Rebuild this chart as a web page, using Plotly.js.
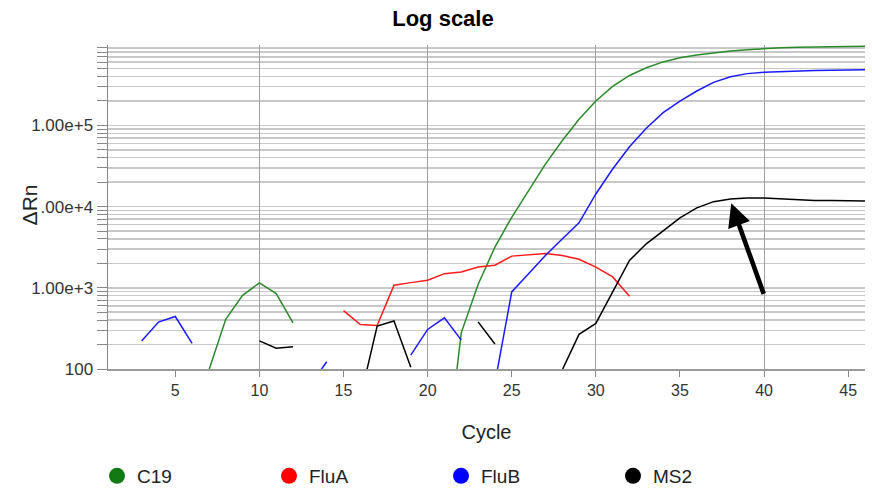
<!DOCTYPE html>
<html>
<head>
<meta charset="utf-8">
<script src="https://cdn.plot.ly/plotly-3.0.1.min.js"></script>
<style>html,body{margin:0;padding:0;background:#fff;}</style>
</head>
<body>
<div id="chart" style="width:872px;height:488px;"></div>
<script>
const cycles = [1,2,3,4,5,6,7,8,9,10,11,12,13,14,15,16,17,18,19,20,21,22,23,24,25,26,27,28,29,30,31,32,33,34,35,36,37,38,39,40,41,42,43,44,45,46];

const c19 = [null,null,null,null,null,null,97,410,809,1146,849,370,null,null,null,null,null,null,null,null,5,279,1100,3170,7390,15700,33400,64600,119000,200000,302000,412000,513000,605000,679000,735000,783000,822000,857000,883000,901000,914000,923000,930000,936000,940000];

const fluA = [null,null,null,null,null,null,null,null,null,null,null,null,null,null,524,353,344,1074,1158,1236,1493,1563,1800,1900,2455,2550,2650,2500,2250,1800,1360,787,null,null,null,null,null,null,null,null,null,null,null,null,null,null];

const fluB = [null,null,222,378,443,207,null,null,null,null,null,null,62,123,null,null,null,null,148,307,427,227,null,67,889,1490,2500,4000,6300,14300,29000,54500,92400,143700,199600,265000,339000,398000,434000,450000,461000,468000,474000,478000,481000,484000];

const ms2 = [null,null,null,null,null,null,null,null,null,222,180,188,null,null,null,44,337,391,105,null,null,null,380,203,null,null,null,97,267,364,900,2174,3480,5080,7240,9660,11500,12400,12790,12790,12450,12200,11900,11860,11860,11750];

const seriesNames = ['C19','FluA','FluB','MS2'];
const lineColors = ['#2a8a2a','#ff1a1a','#1a1aff','#000000'];
const legendColors = ['#137a13','#ff0000','#0000ff','#000000'];
const seriesData = [c19, fluA, fluB, ms2];

const yTickVals = [100, 1000, 10000, 100000];
const yTickText = ['100', '1.00e+3', '1.00e+4', '1.00e+5'];

const FONT = 'Liberation Sans, Arial, Helvetica, sans-serif';

const traces = [];
seriesData.forEach(function(vals, i) {
  traces.push({
    type: 'scatter', mode: 'lines', x: cycles, y: vals, name: seriesNames[i],
    line: {color: lineColors[i], width: 1.5}, connectgaps: false,
    showlegend: false, hoverinfo: 'x+y+name'
  });
});
seriesNames.forEach(function(n, i) {
  traces.push({
    type: 'scatter', mode: 'markers', x: [null], y: [null], name: n,
    xaxis: 'x2', yaxis: 'y',
    marker: {color: legendColors[i], size: 16, symbol: 'circle'},
    showlegend: true
  });
});

const layout = {
  width: 872, height: 488,
  margin: {l: 108, r: 7, t: 45, b: 119, pad: 0, autoexpand: false},
  paper_bgcolor: '#ffffff', plot_bgcolor: '#ffffff',
  font: {family: FONT, color: '#333333'},
  title: {text: '<b>Log scale</b>', x: 0.508, xref: 'container', xanchor: 'center',
          y: 1 - 18/488, yref: 'container', yanchor: 'middle',
          font: {family: FONT, size: 22, color: '#000000'}},
  xaxis: {
    range: [1, 46], tick0: 0, dtick: 5, ticks: 'outside', ticklen: 6, tickwidth: 1,
    tickcolor: '#888888', showline: true, linecolor: '#999999', linewidth: 1.5,
    showgrid: false, zeroline: false,
    tickfont: {family: FONT, size: 16, color: '#333333'},
    title: {text: 'Cycle', font: {family: FONT, size: 20, color: '#222222'}, standoff: 27}
  },
  xaxis2: {
    overlaying: 'x', anchor: 'y', range: [1, 46], tick0: 0, dtick: 10,
    showgrid: true, gridcolor: '#a0a0a0', gridwidth: 1,
    showticklabels: false, ticks: '', showline: false, zeroline: false
  },
  yaxis: {
    type: 'log', range: [2, 5.99],
    tickmode: 'array', tickvals: yTickVals, ticktext: yTickText,
    ticks: 'outside', ticklen: 10, tickwidth: 1, tickcolor: '#888888',
    showline: true, linecolor: '#888888', linewidth: 1.5,
    showgrid: true, gridcolor: '#c8c8c8', gridwidth: 1.5, zeroline: false,
    tickfont: {family: FONT, size: 17, color: '#333333'},
    minor: {dtick: 'D1', showgrid: true, gridcolor: '#c8c8c8', gridwidth: 1.5,
            ticks: 'outside', ticklen: 10, tickcolor: '#888888', tickwidth: 1}
  },
  showlegend: true,
  legend: {
    orientation: 'h', x: 97 / 872, xanchor: 'left', xref: 'container',
    y: 1 - 476/488, yref: 'container', yanchor: 'middle',
    font: {family: FONT, size: 19, color: '#222222'},
    entrywidth: 127, entrywidthmode: 'pixels', itemsizing: 'trace',
    bgcolor: 'rgba(0,0,0,0)', borderwidth: 0
  },
  annotations: [
    {text: 'ΔRn', xref: 'paper', yref: 'paper', x: (29 - 108) / 757, y: 0.505,
     xanchor: 'center', yanchor: 'middle', textangle: -90, showarrow: false,
     bgcolor: '#ffffff', borderpad: 0,
     font: {family: FONT, size: 21, color: '#222222'}},
    {text: '', x: 38.05, y: 4.04, xref: 'x', yref: 'y', showarrow: true,
     arrowhead: 2, arrowsize: 1, arrowwidth: 4.6, arrowcolor: '#000000',
     ax: 33, ay: 92, standoff: 0, startstandoff: 0}
  ]
};

Plotly.newPlot('chart', traces, layout, {displayModeBar: false, staticPlot: true});
</script>
</body>
</html>
